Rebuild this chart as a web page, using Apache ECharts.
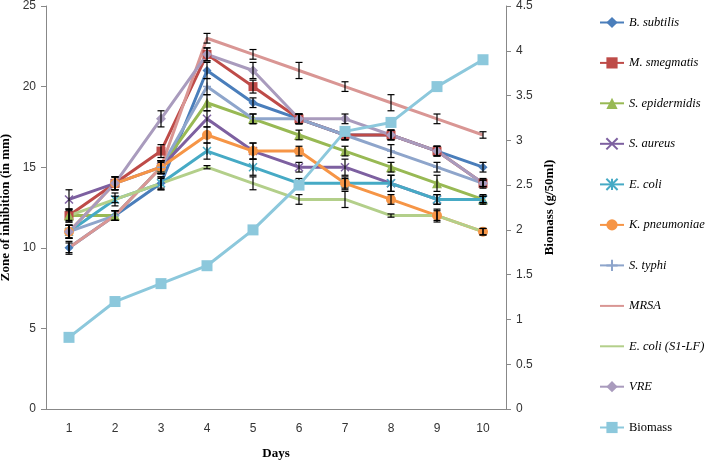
<!DOCTYPE html>
<html><head><meta charset="utf-8">
<script src="https://cdn.jsdelivr.net/npm/echarts@6/dist/echarts.min.js"></script>
<style>html,body{margin:0;padding:0;background:#fff}#c{width:709px;height:462px}</style>
</head><body><div id="c"></div>
<script>
const days = ['1','2','3','4','5','6','7','8','9','10'];
const leftTicks = [0,5,10,15,20,25];
const rightTicks = [0,0.5,1,1.5,2,2.5,3,3.5,4,4.5];

const bSubtilis    = [10,12,14,21,19,18,17,17,16,15];
const mSmegmatis   = [12,14,16,22,20,18,17,17,16,14];
const sEpidermidis = [12,12,15,19,18,17,16,15,14,13];
const sAureus      = [13,14,15,18,16,15,15,14,13,13];
const eColi        = [11,13,14,16,15,14,14,14,13,13];
const kPneumoniae  = [11,14,15,17,16,16,14,13,12,11];
const sTyphi       = [11,12,15,20,18,18,17,16,15,14];
const mrsa         = [10,12,15,23,22,21,20,19,18,17];
const eColiS1LF    = [12,13,14,15,14,13,13,12,12,11];
const vre          = [11,14,18,22,21,18,18,17,16,14];
const biomass      = [0.8,1.2,1.4,1.6,2.0,2.5,3.1,3.2,3.6,3.9];

const errBSubtilis    = [0.4,0.3,0.4,0.5,0.3,0.3,0.3,0.3,0.3,0.3];
const errMSmegmatis   = [0.4,0.4,0.4,0.4,0.4,0.3,0.3,0.3,0.3,0.3];
const errSEpidermidis = [0.4,0.3,0.4,0.5,0.3,0.3,0.3,0.3,0.5,0.3];
const errSAureus      = [0.6,0.4,0.4,0.5,0.5,0.3,0.5,0.5,0.3,0.2];
const errEColi        = [0.4,0.4,0.4,0.5,0.5,0.3,0.3,0.5,0.3,0.2];
const errKPneumoniae  = [0.4,0.4,0.4,0.5,0.5,0.3,0.4,0.3,0.4,0.2];
const errSTyphi       = [0.4,0.3,0.4,0.5,0.3,0.3,0.3,0.4,0.3,0.2];
const errMrsa         = [0.3,0.3,0.3,0.3,0.3,0.5,0.3,0.5,0.3,0.2];
const errEColiS1LF    = [0.3,0.2,0.3,0.1,0.4,0.3,0.5,0.1,0.3,0.2];
const errVre          = [0.4,0.4,0.5,0.4,0.5,0.3,0.3,0.3,0.3,0.2];

const XP = 'path://M0,0L10,10M10,0L0,10';
const STAR = 'path://M0,0L10,10M10,0L0,10M5,0L5,10';
const PLUS = 'path://M0,5L10,5M5,0L5,10';

const defs = [
  {name:'B. subtilis', data:bSubtilis, err:errBSubtilis, color:'#4A7EBB', symbol:'diamond', size:9},
  {name:'M. smegmatis', data:mSmegmatis, err:errMSmegmatis, color:'#BE4B48', symbol:'rect', size:9},
  {name:'S. epidermidis', data:sEpidermidis, err:errSEpidermidis, color:'#98B954', symbol:'triangle', size:10},
  {name:'S. aureus', data:sAureus, err:errSAureus, color:'#7D60A0', symbol:XP, size:8, stroke:true},
  {name:'E. coli', data:eColi, err:errEColi, color:'#46AAC5', symbol:STAR, size:8, stroke:true},
  {name:'K. pneumoniae', data:kPneumoniae, err:errKPneumoniae, color:'#F69546', symbol:'circle', size:10},
  {name:'S. typhi', data:sTyphi, err:errSTyphi, color:'#8EA5CB', symbol:PLUS, size:8, stroke:true},
  {name:'MRSA', data:mrsa, err:errMrsa, color:'#D99694', symbol:'none', size:0},
  {name:'E. coli (S1-LF)', data:eColiS1LF, err:errEColiS1LF, color:'#B3CF8A', symbol:'none', size:0},
  {name:'VRE', data:vre, err:errVre, color:'#A99BBD', symbol:'diamond', size:10}
];

const series = [];
defs.forEach(d => {
  series.push({
    name:d.name, type:'line', yAxisIndex:0, data:d.data,
    symbol:d.symbol, symbolSize:d.size, showSymbol:d.symbol!=='none',
    lineStyle:{color:d.color, width:3},
    itemStyle: d.stroke ? {color:d.color, borderColor:d.color, borderWidth:1.5} : {color:d.color},
    emphasis:{disabled:true}, animation:false
  });
});
defs.forEach(d => {
  series.push({
    type:'custom', yAxisIndex:0, silent:true, animation:false, z:5,
    data: d.data.map((v,i) => [i, v - d.err[i], v + d.err[i]]),
    renderItem: function(params, api){
      const lo = api.coord([api.value(0), api.value(1)]);
      const hi = api.coord([api.value(0), api.value(2)]);
      const x = lo[0], w = 3.5;
      const st = {stroke:'#000', lineWidth:1.2};
      return {type:'group', children:[
        {type:'line', shape:{x1:x,y1:lo[1],x2:x,y2:hi[1]}, style:st},
        {type:'line', shape:{x1:x-w,y1:lo[1],x2:x+w,y2:lo[1]}, style:st},
        {type:'line', shape:{x1:x-w,y1:hi[1],x2:x+w,y2:hi[1]}, style:st}
      ]};
    }
  });
});
series.push({
  name:'Biomass', type:'line', yAxisIndex:1, data:biomass, z:6,
  symbol:'rect', symbolSize:11,
  lineStyle:{color:'#8CC8DC', width:3}, itemStyle:{color:'#8CC8DC'},
  emphasis:{disabled:true}, animation:false
});

const italicItems = defs.map(d => d.symbol === 'none'
  ? {name:d.name, itemStyle:{opacity:0}} : {name:d.name});
const legendBase = {
  orient:'vertical', left:594,
  itemWidth:24, itemHeight:14, itemGap:27.4,
  selectedMode:false
};
const chart = echarts.init(document.getElementById('c'));
chart.setOption({
  backgroundColor:'#fff',
  animation:false,
  grid:{left:46, right:203, top:6, bottom:53, outerBoundsMode:'none', containLabel:false},
  legend:[
    Object.assign({}, legendBase, {top:11, data:italicItems,
      textStyle:{fontFamily:'Liberation Serif', fontSize:12.5, fontStyle:'italic', color:'#000'}}),
    Object.assign({}, legendBase, {top:416, data:['Biomass'],
      textStyle:{fontFamily:'Liberation Serif', fontSize:12.5, color:'#000'}})
  ],
  xAxis:{
    type:'category', data:days, boundaryGap:true,
    name:'Days', nameLocation:'middle', nameGap:38,
    nameTextStyle:{fontFamily:'Liberation Serif', fontWeight:'bold', fontSize:13, color:'#000'},
    axisLine:{lineStyle:{color:'#888'}},
    axisTick:{length:5, lineStyle:{color:'#888'}},
    axisLabel:{fontFamily:'Liberation Sans', fontSize:12, color:'#333', margin:14}
  },
  yAxis:[{
    type:'value', min:0, max:25, interval:5,
    name:'Zone of inhibition (in mm)', nameLocation:'middle', nameGap:22, nameRotate:90,
    nameTextStyle:{fontFamily:'Liberation Serif', fontWeight:'bold', fontSize:13, color:'#000'},
    axisLine:{show:true, lineStyle:{color:'#888'}},
    axisTick:{show:true, length:5, lineStyle:{color:'#888'}},
    splitLine:{show:false},
    axisLabel:{fontFamily:'Liberation Sans', fontSize:12, color:'#333', margin:10}
  },{
    type:'value', min:0, max:4.5, interval:0.5, position:'right',
    name:'Biomass (g/50ml)', nameLocation:'middle', nameGap:20, nameRotate:90,
    nameTextStyle:{fontFamily:'Liberation Serif', fontWeight:'bold', fontSize:13, color:'#000'},
    axisLine:{show:true, lineStyle:{color:'#888'}},
    axisTick:{show:true, length:5, lineStyle:{color:'#888'}},
    splitLine:{show:false},
    axisLabel:{fontFamily:'Liberation Sans', fontSize:12, color:'#333', margin:10}
  }],
  series: series
});
</script>
</body></html>
